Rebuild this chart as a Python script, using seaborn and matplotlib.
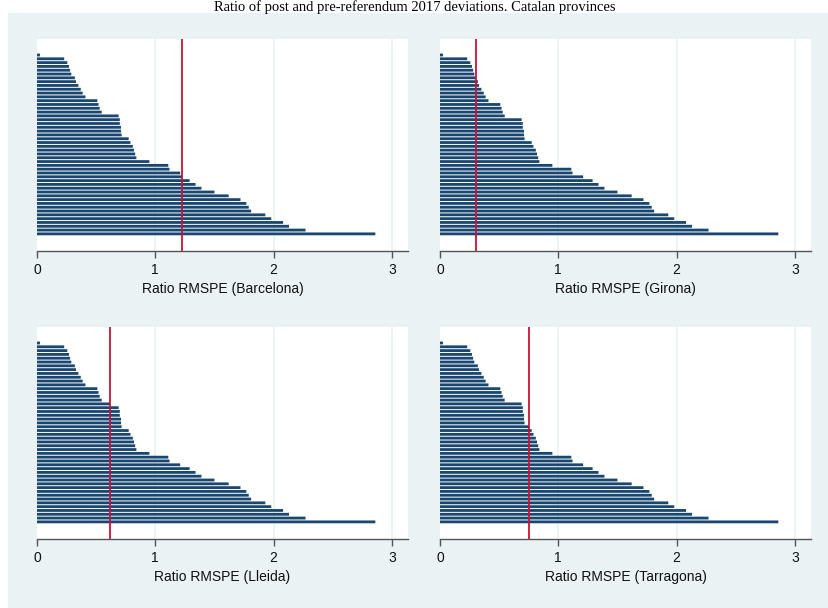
import matplotlib
matplotlib.use("Agg")
import matplotlib.pyplot as plt
import seaborn as sns
import pandas as pd
from matplotlib.patches import Rectangle

# ---- data ----
placebo_ratios = [0.025, 0.23, 0.256, 0.27, 0.28, 0.29, 0.32, 0.33, 0.35, 0.37,
                  0.386, 0.41, 0.51, 0.52, 0.53, 0.547, 0.69, 0.70, 0.70, 0.71,
                  0.71, 0.715, 0.775, 0.79, 0.81, 0.82, 0.83, 0.84, 0.95, 1.11,
                  1.12, 1.21, 1.29, 1.34, 1.39, 1.50, 1.62, 1.72, 1.77, 1.79,
                  1.81, 1.93, 1.98, 2.08, 2.13, 2.27, 2.86]
provinces = ["Barcelona", "Girona", "Lleida", "Tarragona"]
province_ratios = [1.226, 0.304, 0.617, 0.752]
x_ticks = [0, 1, 2, 3]
title_text = "Ratio of post and pre-referendum 2017 deviations. Catalan provinces"

BAR = "#1a476f"
RED = "#cc1038"
BG = "#eaf2f3"

sns.set_theme(style="white")
plt.rcParams['font.family'] = ['Liberation Sans', 'DejaVu Sans']

W, H = 829, 608
fig = plt.figure(figsize=(W / 100, H / 100), dpi=100)
fig.patch.set_facecolor("white")
fig.patches.append(Rectangle((8 / W, 0), 1 - 8 / W, (H - 13) / H,
                             transform=fig.transFigure, facecolor=BG,
                             edgecolor="none", zorder=-10))
fig.text(0.5, 1.0, title_text, ha="center", va="top", fontsize=10.5,
         family=["Liberation Serif", "DejaVu Serif"], color="black")

# axes boxes in pixels: (left, right, top, bottom)
boxes = [(37, 408, 39, 251), (440, 811, 39, 251),
         (37, 408, 327, 539), (440, 811, 327, 539)]

for prov, val, (l, r, t, b) in zip(provinces, province_ratios, boxes):
    ax = fig.add_axes([l / W, 1 - b / H, (r - l) / W, (b - t) / H])
    vals = sorted(placebo_ratios + [val])
    df = pd.DataFrame({"ratio": vals, "unit": [str(i) for i in range(len(vals))]})
    sns.barplot(data=df, x="ratio", y="unit", orient="h", color=BAR,
                saturation=1, width=0.74, linewidth=0, ax=ax, zorder=2)
    for p in ax.patches:
        p.set_snap(False)
    ax.axvline(val, color=RED, lw=1.3, zorder=3)
    ax.set_facecolor("white")
    ax.set_xlim(0, 3.136)
    ax.set_ylim(len(vals) - 1 + 4.5, -4.2)
    ax.set_xticks(x_ticks)
    ax.set_xticklabels([str(v) for v in x_ticks], fontsize=10, color="#111111")
    for g in x_ticks[1:]:
        ax.axvline(g, color=BG, lw=1.2, zorder=1)
    ax.set_yticks([])
    ax.set_ylabel("")
    ax.set_xlabel(f"Ratio RMSPE ({prov})", fontsize=10, color="#111111", labelpad=3)
    for s in ["top", "right", "left"]:
        ax.spines[s].set_visible(False)
    ax.spines["bottom"].set_color("#555555")
    ax.spines["bottom"].set_linewidth(1.0)
    ax.tick_params(axis="x", direction="out", length=5, width=1, color="#555555",
                   pad=4, bottom=True)

fig.savefig("out.png", dpi=100, facecolor=fig.get_facecolor())
